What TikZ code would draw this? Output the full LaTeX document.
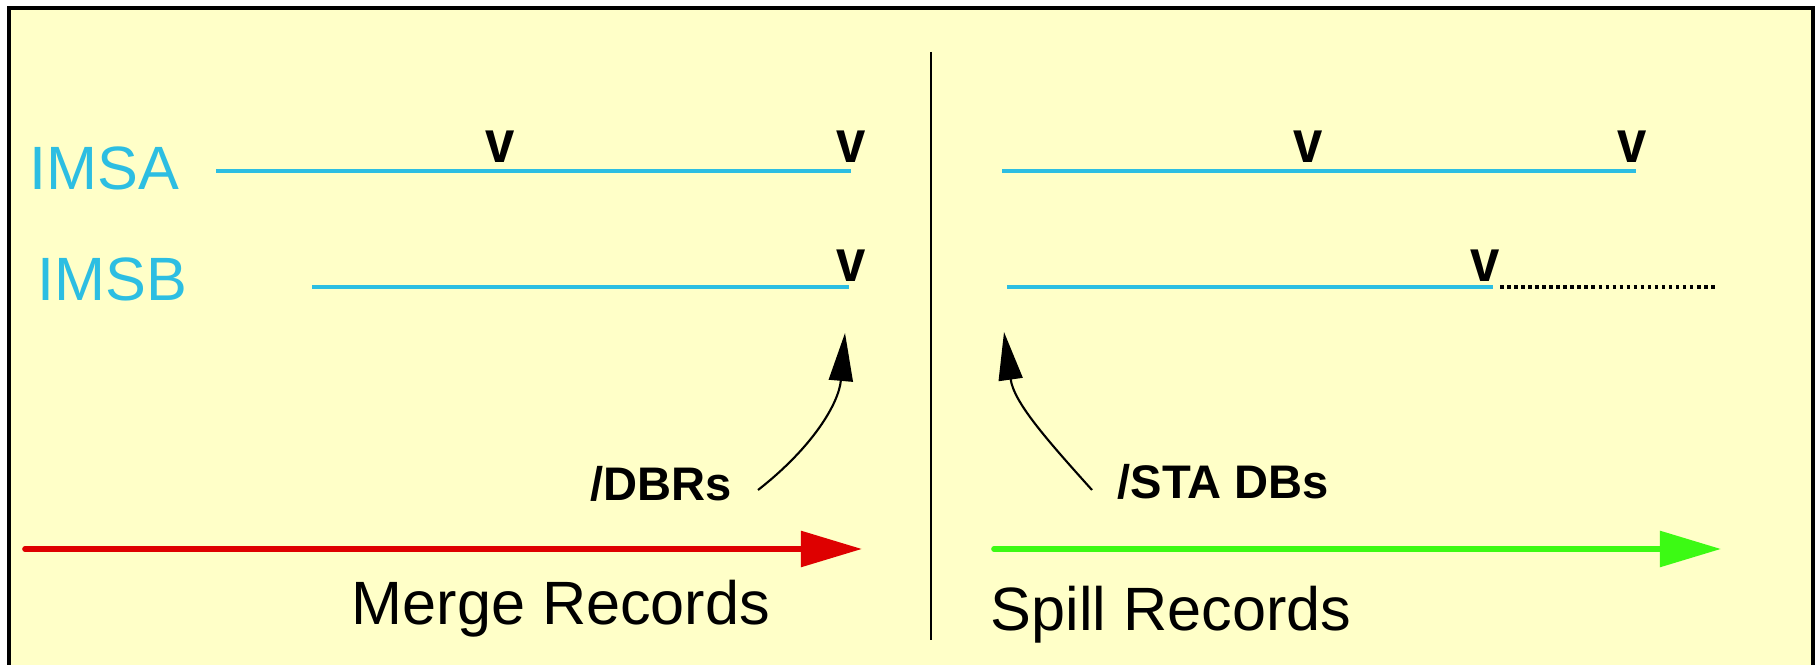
\documentclass[tikz,border=0pt]{standalone}
\usepackage{fontspec}
\setmainfont{Liberation Sans}
\usetikzlibrary{arrows.meta}
\definecolor{paper}{RGB}{255,255,200}
\definecolor{imsblue}{RGB}{44,190,226}
\definecolor{mergered}{RGB}{222,0,0}
\definecolor{spillgreen}{RGB}{60,250,20}
\tikzset{
  sys/.style={text=imsblue,inner sep=0pt,font=\fontsize{17.4}{20}\selectfont},
  logline/.style={imsblue,line width=0.9pt},
  vmark/.style={inner sep=0pt,anchor=south,xscale=0.88,font=\bfseries\fontsize{17}{19}\selectfont},
  cmd/.style={inner sep=0pt,font=\bfseries\fontsize{13.4}{16}\selectfont},
  big/.style={inner sep=0pt,anchor=base west,font=\fontsize{17.4}{20}\selectfont},
  flow/.style={line width=1.6pt,line cap=round,-{Triangle[length=0.61cm,width=0.35cm]}},
  hook/.style={line width=0.6pt,-{Triangle[length=0.48cm,width=0.24cm]}}
}
\begin{document}
\begin{tikzpicture}[x=0.01cm,y=-0.01cm]
\useasboundingbox(0,0)rectangle(1815,665);
\fill[white](0,0)rectangle(1815,665);
\draw[fill=paper,line width=1pt](9,8)rectangle(1813,720);
\draw[line width=0.8pt](931,52)--(931,640);
% left half: merge
\node[sys,anchor=west](imsa)at(29,168){IMSA};
\node[sys,anchor=west](imsb)at(37,279){IMSB};
\coordinate(a0)at(216,171);\coordinate(a1)at(851,171);
\coordinate(b0)at(312,287);\coordinate(b1)at(849,287);
\draw[logline](a0)--(a1);
\draw[logline](b0)--(b1);
\node[vmark](va1)at(500,163){v};
\node[vmark](va2)at(851,163){v};
\node[vmark](vb1)at(851,282){v};
\node[cmd,anchor=west](dbr)at(590,484){/DBRs};
\coordinate(dbrs)at(758,490);\coordinate(dbrt)at(845,333);
\draw[hook](dbrs)to[out=38,in=-95](dbrt);
\coordinate(m0)at(25,549);\coordinate(m1)at(862,549);
\draw[flow,mergered](m0)--(m1);
\node[big](merge)at(351,625){Merge Records};
% right half: spill
\coordinate(c0)at(1002,171);\coordinate(c1)at(1636,171);
\coordinate(d0)at(1007,287);\coordinate(d1)at(1493,287);\coordinate(d2)at(1716,287);
\draw[logline](c0)--(c1);
\draw[logline](d0)--(d1);
\draw[densely dotted,line width=1pt]([xshift=2]d1)--(d2);
\node[vmark](vc1)at(1308,163){v};
\node[vmark](vc2)at(1632,163){v};
\node[vmark](vd1)at(1485,282){v};
\node[cmd,anchor=west](sta)at(1117,482){/STA DBs};
\coordinate(stas)at(1092,490);\coordinate(stat)at(1004,332);
\draw[hook](stas)to[out=132,in=-82](stat);
\coordinate(s0)at(994,549);\coordinate(s1)at(1721,549);
\draw[flow,spillgreen](s0)--(s1);
\node[big](spill)at(990,631){Spill Records};
\end{tikzpicture}
\end{document}
